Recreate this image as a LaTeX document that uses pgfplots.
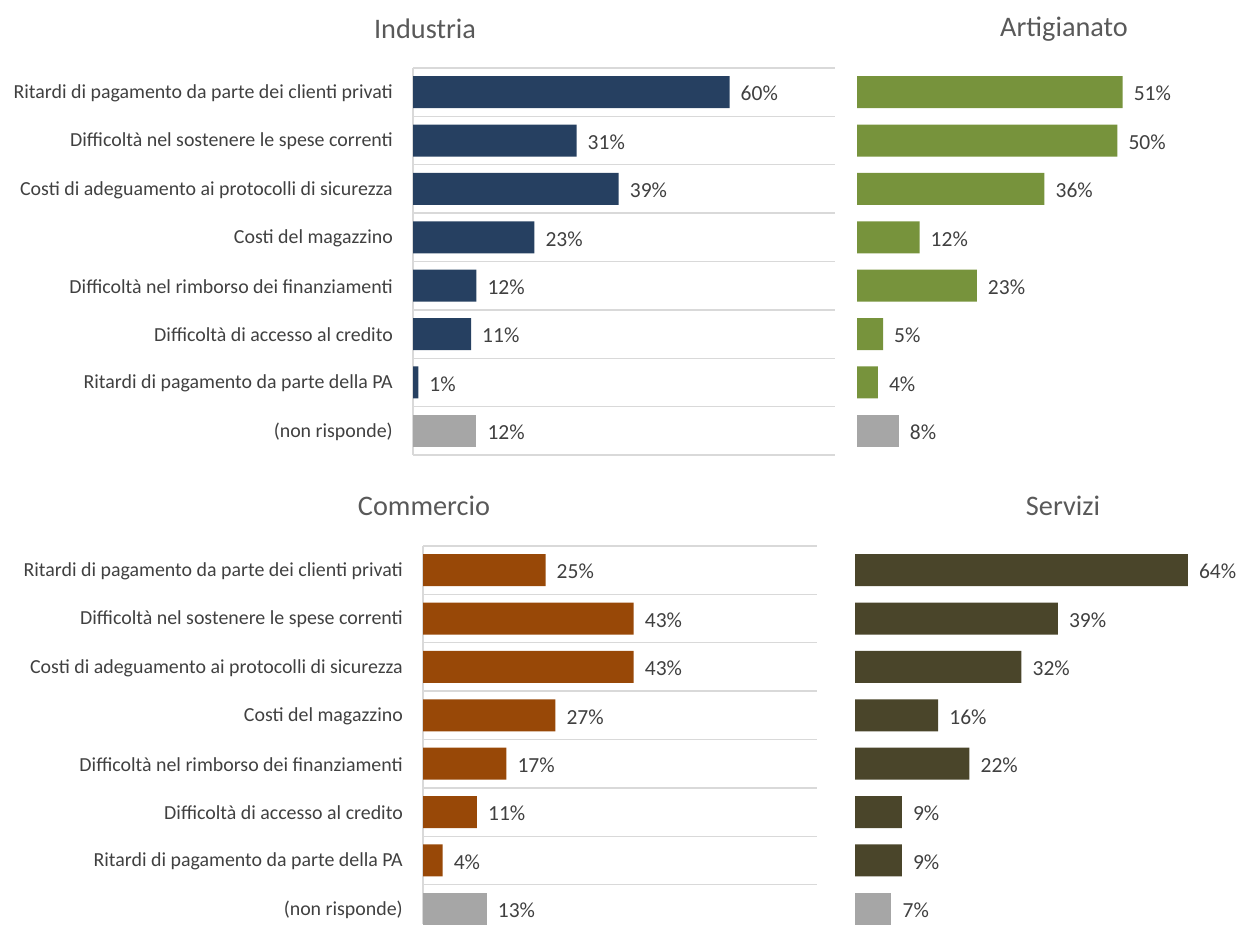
\documentclass[border=0pt]{standalone}
\usepackage{fontspec}
\setmainfont{Carlito}
\usepackage{pgfplots}
\pgfplotsset{compat=1.18}
\definecolor{navy}{RGB}{38,64,97}
\definecolor{grn}{RGB}{119,147,60}
\definecolor{org}{RGB}{152,72,7}
\definecolor{olv}{RGB}{74,69,42}
\definecolor{gry}{RGB}{166,166,166}
\definecolor{gridc}{RGB}{217,217,217}
\definecolor{labc}{RGB}{64,64,64}
\definecolor{titc}{RGB}{89,89,89}
\newcommand{\lab}{\fontsize{19.9}{23}\selectfont}
\newcommand{\val}{\fontsize{21.5}{25}\selectfont}
\newcommand{\tit}{\fontsize{28.3}{33}\selectfont}
\pgfplotsset{
  panel/.style={
    xbar, scale only axis, bar width=32pt, bar shift=0pt,
    y dir=reverse, ymin=0.5, ymax=8.5, xmin=0,
    height=387pt,
    axis line style={draw=none},
    xtick=\empty,
    minor ytick={0.5,1.5,...,8.5},
    yminorgrids=true, ymajorgrids=false,
    minor grid style={gridc, line width=1.3pt},
    major tick length=0pt, minor tick length=0pt,
    tick style={draw=none},
    yticklabel style={font=\lab, text=labc, inner sep=0pt, xshift=-20pt, yshift=-1pt},
    nodes near coords={\pgfmathprintnumber[assume math mode=true]{\pgfplotspointmeta}\%},
    nodes near coords style={font=\val, text=labc, anchor=west, inner sep=0pt, xshift=11pt, yshift=-1.5pt},
  },
  leftline/.style={
    extra x ticks={0}, extra x tick labels={},
    extra x tick style={xmajorgrids=true, major grid style={gridc, line width=1.3pt}},
  },
  withlabels/.style={
    ytick={1,...,8},
    yticklabels={Ritardi di pagamento da parte dei clienti privati,
      Difficoltà nel sostenere le spese correnti,
      Costi di adeguamento ai protocolli di sicurezza,
      Costi del magazzino,
      Difficoltà nel rimborso dei finanziamenti,
      Difficoltà di accesso al credito,
      Ritardi di pagamento da parte della PA,
      (non risponde)},
  },
  nolabels/.style={ytick=\empty},
}
\begin{document}
\begin{tikzpicture}
\useasboundingbox (0pt,0pt) rectangle (1258pt,924pt);
% Industria
\begin{axis}[panel, withlabels, leftline, at={(413pt,469pt)}, anchor=south west,
  width=422pt, xmax=80]
\addplot[fill=navy, draw=none] coordinates {(60,1) (31,2) (39,3) (23,4) (12,5) (11,6) (1,7)};
\addplot[fill=gry, draw=none] coordinates {(12,8)};
\end{axis}
% Artigianato
\begin{axis}[panel, nolabels, at={(857pt,469pt)}, anchor=south west,
  width=401pt, xmax=77]
\addplot[fill=grn, draw=none] coordinates {(51,1) (50,2) (36,3) (12,4) (23,5) (5,6) (4,7)};
\addplot[fill=gry, draw=none] coordinates {(8,8)};
\end{axis}
% Commercio
\begin{axis}[panel, withlabels, leftline, at={(423pt,0pt)}, anchor=south west,
  width=394pt, xmax=80.4, height=378pt, ymax=8.314]
\addplot[fill=org, draw=none] coordinates {(25,1) (43,2) (43,3) (27,4) (17,5) (11,6) (4,7)};
\addplot[fill=gry, draw=none] coordinates {(13,8)};
\end{axis}
% Servizi
\begin{axis}[panel, nolabels, at={(855pt,0pt)}, anchor=south west,
  width=403pt, xmax=77.5, height=378pt, ymax=8.314]
\addplot[fill=olv, draw=none] coordinates {(64,1) (39,2) (32,3) (16,4) (22,5) (9,6) (9,7)};
\addplot[fill=gry, draw=none] coordinates {(7,8)};
\end{axis}
\node[font=\tit, text=titc] at (425pt,895pt) {Industria};
\node[font=\tit, text=titc] at (1064pt,895pt) {Artigianato};
\node[font=\tit, text=titc] at (424pt,418pt) {Commercio};
\node[font=\tit, text=titc] at (1063pt,418pt) {Servizi};
\end{tikzpicture}
\end{document}
